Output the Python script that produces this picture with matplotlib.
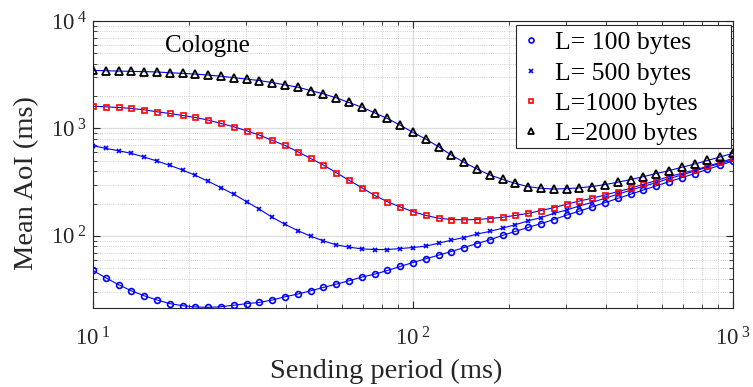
import matplotlib
matplotlib.use("Agg")
import matplotlib.pyplot as plt
from matplotlib.patches import Rectangle
from matplotlib.ticker import FixedLocator, FixedFormatter, LogLocator, NullFormatter

plt.rcParams["font.family"] = ["Liberation Serif", "DejaVu Serif"]
plt.rcParams["mathtext.fontset"] = "custom"
plt.rcParams["mathtext.rm"] = "Liberation Serif"
plt.rcParams["mathtext.it"] = "Liberation Serif:italic"

# sending period (ms), 25 samples per decade
period = [10.0, 10.96, 12.02, 13.18, 14.45, 15.85, 17.38, 19.05, 20.89, 22.91,
          25.12, 27.54, 30.20, 33.11, 36.31, 39.81, 43.65, 47.86, 52.48, 57.54,
          63.10, 69.18, 75.86, 83.18, 91.20, 100.0, 109.6, 120.2, 131.8, 144.5,
          158.5, 173.8, 190.5, 208.9, 229.1, 251.2, 275.4, 302.0, 331.1, 363.1,
          398.1, 436.5, 478.6, 524.8, 575.4, 631.0, 691.8, 758.6, 831.8, 912.0,
          1000.0]

# mean AoI (ms) per packet length
aoi_100 = [47.6, 40.7, 35.1, 30.8, 27.7, 25.3, 23.4, 22.4, 21.8, 21.6,
           21.9, 22.6, 23.4, 24.0, 25.3, 27.1, 28.7, 30.8, 33.1, 35.5,
           38.2, 41.3, 44.0, 47.6, 51.9, 56.5, 61.2, 66.1, 71.5, 77.9,
           84.9, 91.8, 101, 110, 120, 130, 142, 156, 170, 186,
           204, 223, 244, 267, 292, 319, 348, 380, 415, 455,
           497]
aoi_500 = [690, 652, 620, 586, 542, 497, 453, 410, 366, 322,
           281, 244, 208, 177, 149, 128, 112, 99.3, 89.9, 82.5,
           78.5, 75.7, 74.6, 74.6, 76.2, 77.9, 80.2, 85.5, 91.2, 96.5,
           104, 110, 118, 127, 138, 148, 162, 174, 190, 205,
           224, 244, 266, 289, 313, 341, 369, 401, 437, 472,
           510]
aoi_1000 = [1612, 1589, 1567, 1534, 1491, 1428, 1378, 1320, 1265, 1195,
            1113, 1036, 951, 867, 774, 695, 607, 526, 456, 388,
            329, 281, 238, 208, 186, 168, 155, 146, 142, 141,
            142, 145, 149, 155, 162, 172, 183, 197, 211, 224,
            240, 258, 277, 302, 327, 356, 382, 410, 444, 483,
            526]
aoi_2000 = [3470, 3445, 3420, 3400, 3380, 3355, 3300, 3255, 3205, 3140,
            3060, 2970, 2880, 2791, 2675, 2545, 2421, 2254, 2099, 1927,
            1744, 1578, 1398, 1238, 1074, 918, 796, 676, 565, 483,
            419, 369, 336, 308, 287, 277, 273, 275, 280, 288,
            300, 316, 334, 356, 380, 405, 435, 466, 503, 543,
            586]

series = [
    (aoi_100, "L= 100 bytes", dict(marker="o", mec="blue", ms=4.2, mew=1.2)),
    (aoi_500, "L= 500 bytes", dict(marker="x", mec="blue", ms=3.2, mew=1.2)),
    (aoi_1000, "L=1000 bytes", dict(marker="s", mec="red", ms=3.6, mew=1.2)),
    (aoi_2000, "L=2000 bytes", dict(marker="^", mec="black", ms=5.2, mew=1.3)),
]

fig = plt.figure(figsize=(7.53, 3.87), dpi=100)
ax = fig.add_axes([0.1235, 0.2041, 0.8499, 0.7416])

for values, label, style in series:
    ax.plot(period, values, color="blue", lw=0.8, zorder=2)
    ax.plot(period, values, ls="none", mfc="none", label=label, zorder=3, **style)

ax.set_xscale("log")
ax.set_yscale("log")
ax.set_xlim(10, 1000)
ax.set_ylim(21.3, 1e4)

ax.xaxis.set_major_locator(FixedLocator([10, 100, 1000]))
ax.xaxis.set_major_formatter(FixedFormatter([r"$10^{\ 1}$", r"$10^{\ 2}$", r"$10^{\ 3}$"]))
ax.yaxis.set_major_locator(FixedLocator([100, 1000, 10000]))
ax.yaxis.set_major_formatter(FixedFormatter([r"$10^{\ 2}$", r"$10^{\ 3}$", r"$10^{\ 4}$"]))
for axis in (ax.xaxis, ax.yaxis):
    axis.set_minor_locator(LogLocator(base=10, subs=range(2, 10), numticks=20))
    axis.set_minor_formatter(NullFormatter())

ax.tick_params(which="both", direction="in", top=True, right=True,
               colors="#262626", labelsize=16.5)
ax.tick_params(which="major", length=5, width=0.8)
ax.tick_params(which="minor", length=3, width=0.6)
ax.tick_params(axis="x", which="major", pad=14)
ax.tick_params(axis="y", which="major", pad=4)
for spine in ax.spines.values():
    spine.set_color("#262626")
    spine.set_linewidth(0.8)

ax.grid(True, which="major", color="#dcdcdc", lw=0.9, ls="-", zorder=0)
ax.grid(True, which="minor", color="#bfbfbf", lw=0.6, ls=":", zorder=0)
ax.set_axisbelow(True)

ax.set_xlabel("Sending period (ms)", fontsize=20.5, color="#262626")
ax.set_ylabel("Mean AoI (ms)", fontsize=20.5, color="#262626")
ax.xaxis.set_label_coords(0.458, -0.178)
ax.yaxis.set_label_coords(-0.084, 0.437)

ax.text(0.112, 0.913, "Cologne", transform=ax.transAxes, fontsize=18,
        va="center", ha="left", color="black")

# MATLAB-style legend box with wide right margin
ax.add_patch(Rectangle((0.661, 0.5575), 0.336, 0.4285, transform=ax.transAxes,
                       facecolor="white", edgecolor="#262626", lw=0.8, zorder=4))
leg = ax.legend(loc="upper left", bbox_to_anchor=(0.661, 0.986),
                fontsize=18.5, frameon=False, borderaxespad=0.0,
                handlelength=0.7, handletextpad=0.55, borderpad=0.25,
                labelspacing=0.28, markerscale=0.85)
leg.set_zorder(5)

fig.savefig("out.png", dpi=100)
